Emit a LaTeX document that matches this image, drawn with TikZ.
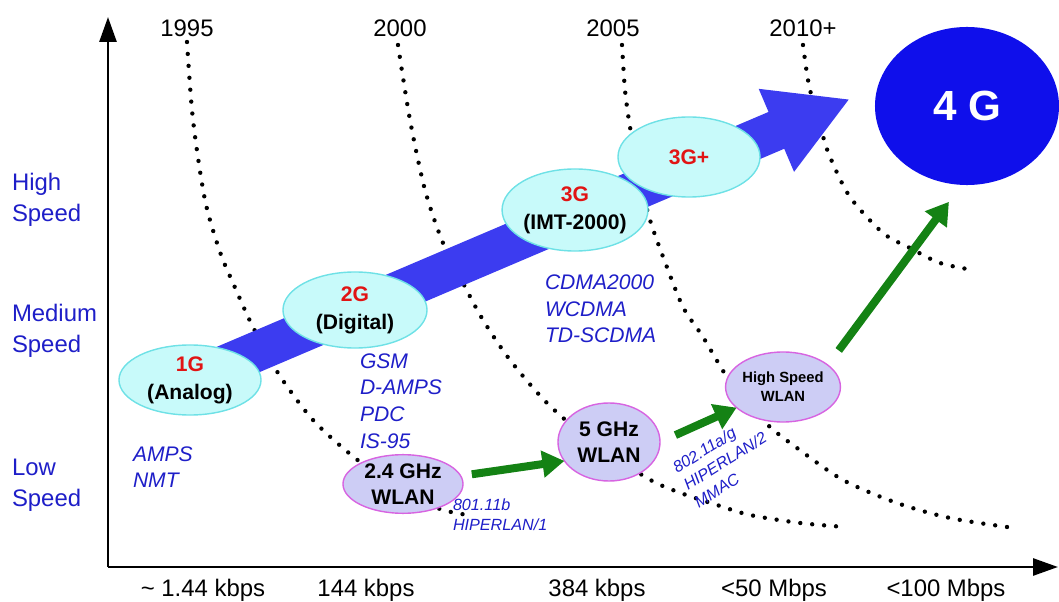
\documentclass[tikz,border=0pt]{standalone}
\usepackage{fontspec}
\setmainfont{Liberation Sans}
\usetikzlibrary{shapes.geometric,arrows.meta}

\definecolor{azultxt}{RGB}{30,30,200}
\definecolor{azulbanda}{RGB}{60,60,240}
\definecolor{azulfuerte}{RGB}{15,15,235}
\definecolor{cianfondo}{RGB}{200,250,250}
\definecolor{cianborde}{RGB}{110,225,230}
\definecolor{lilafondo}{RGB}{205,205,245}
\definecolor{lilaborde}{RGB}{215,100,225}
\definecolor{verde}{RGB}{20,130,20}
\definecolor{rojo}{RGB}{225,20,20}

\begin{document}
\begin{tikzpicture}[
        x=0.025cm, y=-0.025cm,
        every node/.style={inner sep=0pt, outer sep=0pt},
        eje/.style={line width=2.1pt, -{Triangle[length=0.62cm, width=0.42cm]}},
        punteado/.style={line width=3.1pt, line cap=round, dash pattern=on 0pt off 8.5pt},
        etiq/.style={font=\fontsize{17}{22}\selectfont},
        velocidad/.style={etiq, text=azultxt, anchor=west, align=left},
        sistemas/.style={font=\fontsize{15}{19}\selectfont\itshape, text=azultxt, anchor=west, align=left},
        norma/.style={font=\fontsize{11.5}{14.5}\selectfont\itshape, text=azultxt, align=left},
        celular/.style={ellipse, draw=cianborde, fill=cianfondo, line width=1pt, align=center,
            font=\fontsize{15}{20}\selectfont\bfseries},
        wlan/.style={ellipse, draw=lilaborde, fill=lilafondo, line width=1pt, align=center,
            font=\fontsize{15}{19}\selectfont\bfseries},
        flechaverde/.style={draw=verde, line width=0.2cm, -{Triangle[length=0.55cm, width=0.65cm]}}
    ]

    \useasboundingbox (0,0) rectangle (1059,602);

    % Ejes
    \coordinate (O) at (108,567);
    \coordinate (ytop) at (108,17);
    \coordinate (xend) at (1058,567);
    \draw[eje] (O) -- (ytop);
    \draw[eje] (O) -- (xend);

    % Años
    \node[etiq] (a1995) at (187,28) {1995};
    \node[etiq] (a2000) at (400,28) {2000};
    \node[etiq] (a2005) at (613,28) {2005};
    \node[etiq] (a2010) at (803,28) {2010+};

    % Tasas
    \node[etiq] (r1) at (203,590) {\textasciitilde\ 1.44 kbps};
    \node[etiq] (r2) at (366,590) {144 kbps};
    \node[etiq] (r3) at (597,590) {384 kbps};
    \node[etiq] (r4) at (774,590) {<50 Mbps};
    \node[etiq] (r5) at (946,590) {<100 Mbps};

    % Velocidades
    \node[velocidad] (vhigh) at (12,200) {High\\Speed};
    \node[velocidad] (vmed)  at (12,331) {Medium\\Speed};
    \node[velocidad] (vlow)  at (12,485) {Low\\Speed};

    % Curvas
    \draw[punteado] plot[smooth] coordinates {(187,42) (193,120) (205,200) (220,252)
        (233,283) (252,325) (278,373) (313,420) (355,458) (400,490) (440,509) (468,515)};
    \draw[punteado] plot[smooth] coordinates {(398,45) (410,120) (425,190) (443,243)
        (463,283) (483,320) (510,360) (547,403) (590,440) (647,478) (678,492) (717,505)
        (750,515) (800,523) (845,527)};
    \draw[punteado] plot[smooth] coordinates {(622,45) (625,90) (630,127) (640,180)
        (650,220) (665,262) (683,307) (703,337) (727,377) (750,405) (770,427) (797,448)
        (843,480) (897,503) (950,518) (1007,527)};
    \draw[punteado] plot[smooth] coordinates {(803,45) (808,80) (815,110) (822,133)
        (830,157) (850,197) (883,233) (910,248) (940,263) (973,270)};

    % Banda azul
    \coordinate (puntabanda) at (850,99);
    \draw[azulbanda, line width=1cm, -{Triangle[length=2cm, width=2.1cm]}] (190,380) -- (puntabanda);

    % Sistemas celulares
    \node[celular, minimum width=3.55cm, minimum height=1.75cm] (g1) at (190,380)
        {\textcolor{rojo}{1G}\\(Analog)};
    \node[celular, minimum width=3.6cm, minimum height=1.9cm] (g2) at (355,310)
        {\textcolor{rojo}{2G}\\(Digital)};
    \node[celular, minimum width=3.6cm, minimum height=2.05cm] (g3) at (575,210)
        {\textcolor{rojo}{3G}\\(IMT-2000)};
    \node[celular, minimum width=3.55cm, minimum height=2.0cm] (g3p) at (689,157)
        {\textcolor{rojo}{3G+}};
    \node[ellipse, fill=azulfuerte, minimum width=4.6cm, minimum height=3.95cm,
        text=white, font=\fontsize{30}{34}\selectfont\bfseries] (g4) at (967,106) {4 G};

    % Redes WLAN
    \node[wlan, minimum width=3.0cm, minimum height=1.45cm] (w24) at (403,484) {2.4 GHz\\WLAN};
    \node[wlan, minimum width=2.55cm, minimum height=1.95cm] (w5) at (609,442) {5 GHz\\WLAN};
    \node[wlan, minimum width=2.65cm, minimum height=1.75cm,
        font=\fontsize{10.5}{13.5}\selectfont\bfseries] (whs) at (783,387) {High Speed\\WLAN};

    % Flechas verdes
    \draw[flechaverde, shorten <=8pt] (w24.8) -- (w5.203);
    \draw[flechaverde, shorten <=12pt] (w5.east) -- (whs.204);
    \draw[flechaverde, shorten <=13pt, shorten >=15pt] (whs.26) -- (g4.266);

    % Sistemas y normas
    \node[sistemas] (s1) at (133,467) {AMPS\\NMT};
    \node[sistemas] (s2) at (360,401) {GSM\\D-AMPS\\PDC\\IS-95};
    \node[sistemas] (s3) at (545,309) {CDMA2000\\WCDMA\\TD-SCDMA};
    \node[norma, anchor=west] (n1) at (453,515) {801.11b\\HIPERLAN/1};
    \node[norma, rotate=32] (n2) at (725,461) {802.11a/g\\HIPERLAN/2\\MMAC};

\end{tikzpicture}
\end{document}
